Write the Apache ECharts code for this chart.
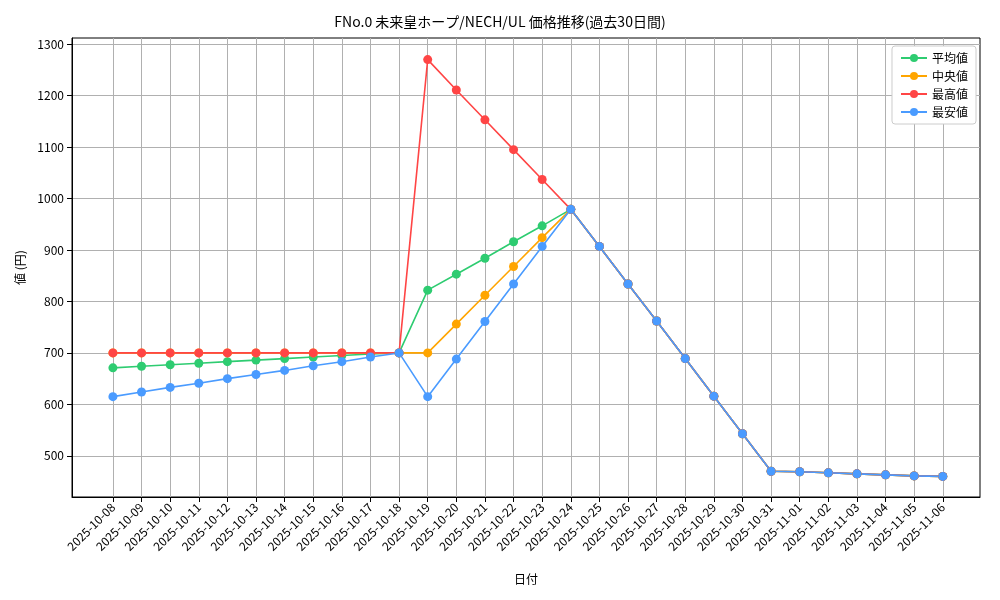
<!DOCTYPE html>
<html>
<head>
    <meta charset="utf-8">
    <title>価格推移</title>
    <script src="https://cdn.jsdelivr.net/npm/echarts@6/dist/echarts.min.js"></script>
</head>
<body style="margin:0">
    <div id="chart" style="width: 1000px;height: 600px;"></div>
    <script>
        const dates = ['2025-10-08', '2025-10-09', '2025-10-10', '2025-10-11', '2025-10-12', '2025-10-13',
            '2025-10-14', '2025-10-15', '2025-10-16', '2025-10-17', '2025-10-18', '2025-10-19',
            '2025-10-20', '2025-10-21', '2025-10-22', '2025-10-23', '2025-10-24', '2025-10-25',
            '2025-10-26', '2025-10-27', '2025-10-28', '2025-10-29', '2025-10-30', '2025-10-31',
            '2025-11-01', '2025-11-02', '2025-11-03', '2025-11-04', '2025-11-05', '2025-11-06'
        ];
        const avgVals = [671, 674, 677, 680, 683, 686, 689, 692, 695, 698, 700, 822, 853, 884, 916, 947,
            979, 907, 834, 762, 689, 616, 543, 470, 469, 467, 465, 463, 461, 460];
        const medVals = [700, 700, 700, 700, 700, 700, 700, 700, 700, 700, 700, 700, 756, 812, 868, 924,
            979, 907, 834, 762, 689, 616, 543, 470, 469, 467, 465, 463, 461, 460];
        const maxVals = [700, 700, 700, 700, 700, 700, 700, 700, 700, 700, 700, 1270, 1211, 1153, 1095, 1037,
            979, 907, 834, 762, 689, 616, 543, 470, 469, 467, 465, 463, 461, 460];
        const minVals = [615, 624, 633, 641, 650, 658, 666, 675, 683, 692, 700, 615, 688, 761, 834, 907,
            979, 907, 834, 762, 689, 616, 543, 470, 469, 467, 465, 463, 461, 460];
        const yTicks = [500, 600, 700, 800, 900, 1000, 1100, 1200, 1300];

        const font = '"Noto Sans CJK JP", "DejaVu Sans", sans-serif';
        const xIdx = dates.map((d, i) => i);
        const mk = (name, vals, color) => ({
            name: name,
            type: 'line',
            data: vals.map((v, i) => [i, v]),
            symbol: 'circle',
            symbolSize: 9,
            lineStyle: { width: 1.6, color: color },
            itemStyle: { color: color },
            animation: false
        });

        const chart = echarts.init(document.getElementById('chart'));
        chart.setOption({
            textStyle: { fontFamily: font },
            title: {
                text: 'FNo.0 未来皇ホープ/NECH/UL 価格推移(過去30日間)',
                left: 'center', top: 10,
                textStyle: { fontSize: 14, fontWeight: 'normal', color: '#000', fontFamily: font }
            },
            legend: {
                orient: 'vertical', right: 24, top: 46,
                itemWidth: 26, itemHeight: 10, itemGap: 6,
                backgroundColor: '#fff', borderColor: '#ccc', borderWidth: 1, borderRadius: 3,
                padding: [6, 8],
                textStyle: { fontSize: 12, color: '#000' }
            },
            grid: { left: 72, right: 20, top: 38, bottom: 103, show: true, borderColor: '#000', borderWidth: 1 },
            xAxis: {
                type: 'value', min: -1.43, max: 30.3,
                name: '日付', nameLocation: 'middle', nameGap: 76,
                nameTextStyle: { fontSize: 12, color: '#000' },
                axisLine: { onZero: false, lineStyle: { color: '#000' } },
                axisTick: { customValues: xIdx, lineStyle: { color: '#000' } },
                axisLabel: {
                    customValues: xIdx, rotate: 45, fontSize: 12, color: '#000',
                    formatter: v => dates[Math.round(v)] || ''
                },
                splitLine: { show: true, lineStyle: { color: '#b0b0b0' } }
            },
            yAxis: {
                type: 'value', min: 420, max: 1312,
                name: '値 (円)', nameLocation: 'middle', nameGap: 46, nameRotate: 90,
                nameTextStyle: { fontSize: 12, color: '#000' },
                axisLine: { show: true, onZero: false, lineStyle: { color: '#000' } },
                axisTick: { show: true, customValues: yTicks, lineStyle: { color: '#000' } },
                axisLabel: { customValues: yTicks, fontSize: 12, color: '#000', formatter: v => String(v) },
                splitLine: { show: true, lineStyle: { color: '#b0b0b0' } }
            },
            series: [
                mk('平均値', avgVals, '#2ecc71'),
                mk('中央値', medVals, '#ffa500'),
                mk('最高値', maxVals, '#ff4545'),
                mk('最安値', minVals, '#4a9bff')
            ]
        });
    </script>
</body>
</html>
